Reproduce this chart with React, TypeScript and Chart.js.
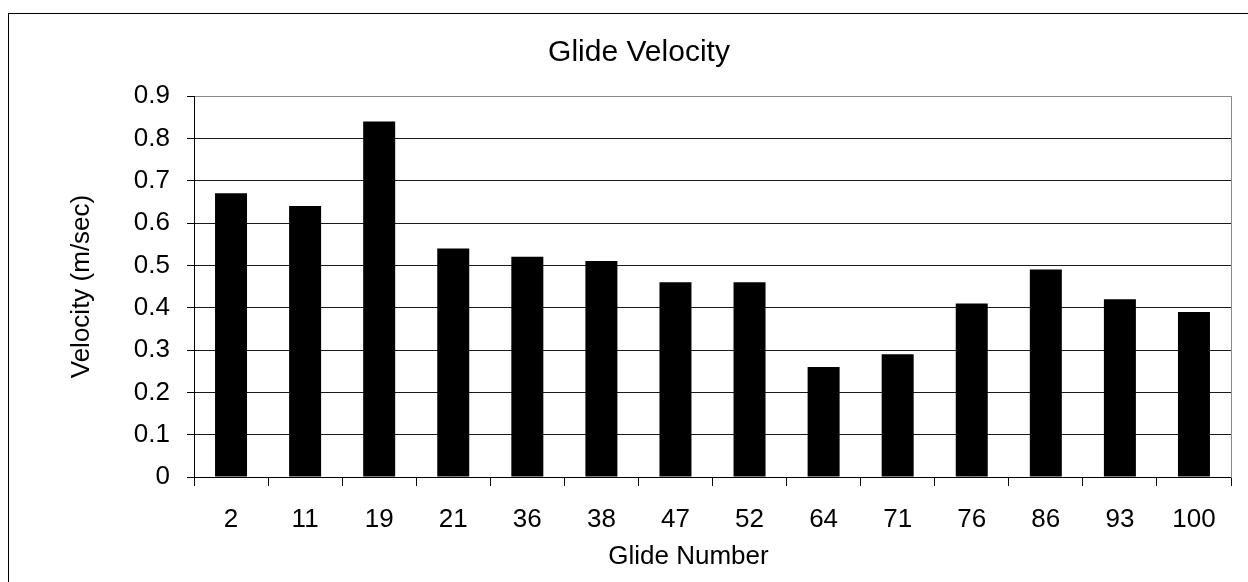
import React, { useEffect, useRef } from "react";
import { Chart, registerables } from "chart.js";

Chart.register(...registerables);

const categories: string[] = ["2", "11", "19", "21", "36", "38", "47", "52", "64", "71", "76", "86", "93", "100"];
const velocities: number[] = [0.67, 0.64, 0.84, 0.54, 0.52, 0.51, 0.46, 0.46, 0.26, 0.29, 0.41, 0.49, 0.42, 0.39];
const yMin = 0;
const yMax = 0.9;
const yStep = 0.1;
const chartTitle = "Glide Velocity";
const xTitle = "Glide Number";
const yTitle = "Velocity (m/sec)";

const FONT = "'Liberation Sans', Arial, sans-serif";

export default function App() {
  const ref = useRef<HTMLCanvasElement | null>(null);

  useEffect(() => {
    if (!ref.current) return;
    const xTitlePlugin = {
      id: "xTitlePlugin",
      afterDraw(chart: any) {
        const { ctx, chartArea } = chart;
        ctx.save();
        ctx.font = `26px ${FONT}`;
        ctx.fillStyle = "#000";
        ctx.textAlign = "center";
        ctx.textBaseline = "middle";
        ctx.fillText(xTitle, (chartArea.left + chartArea.right) / 2 - 24, chartArea.bottom + 80);
        ctx.restore();
      },
    };
    const chart = new Chart(ref.current, {
      type: "bar",
      data: {
        labels: categories,
        datasets: [
          {
            data: velocities,
            backgroundColor: "#000",
            borderWidth: 0,
            barPercentage: 0.432,
            categoryPercentage: 1,
          },
        ],
      },
      plugins: [xTitlePlugin],
      options: {
        animation: false,
        responsive: false,
        devicePixelRatio: 1,
        layout: { padding: { left: 0, right: 0, top: 0, bottom: 0 } },
        plugins: {
          legend: { display: false },
          tooltip: { enabled: false },
          title: {
            display: true,
            text: chartTitle,
            color: "#000",
            font: { family: FONT, size: 30, weight: "normal" },
            padding: { top: 21, bottom: 25 },
          },
        },
        scales: {
          x: {
            type: "category",
            offset: true,
            afterFit(scale: any) {
              scale.height = 105;
            },
            grid: {
              offset: true,
              drawOnChartArea: false,
              drawTicks: true,
              tickLength: 9,
              color: "#000",
              tickColor: "#000",
            },
            border: { display: true, color: "#000", width: 1 },
            ticks: {
              color: "#000",
              font: { family: FONT, size: 26 },
              padding: 18,
              maxRotation: 0,
              autoSkip: false,
            },
          },
          y: {
            type: "linear",
            position: "left",
            min: yMin,
            max: yMax,
            afterFit(scale: any) {
              scale.width = 185;
            },
            grid: {
              color: (c: any) => (c.tick && Math.abs(c.tick.value - yMax) < 1e-9 ? "#8a8a8a" : "#1a1a1a"),
              tickColor: "#000",
              tickLength: 7,
              lineWidth: 1,
            },
            border: { display: true, color: "#000", width: 1 },
            ticks: {
              stepSize: yStep,
              color: "#000",
              font: { family: FONT, size: 26 },
              padding: 17,
              callback: (v: any) => Number(Number(v).toFixed(1)).toString(),
            },
            title: {
              display: true,
              text: yTitle,
              color: "#000",
              font: { family: FONT, size: 26 },
              padding: { top: 57, bottom: 0 },
            },
          },
          y2: {
            type: "linear",
            position: "right",
            min: yMin,
            max: yMax,
            afterFit(scale: any) {
              scale.width = 38;
            },
            grid: { drawOnChartArea: false, drawTicks: false },
            border: { display: true, color: "#8a8a8a", width: 1 },
            ticks: { display: false },
          },
        },
      },
    });
    return () => chart.destroy();
  }, []);

  return (
    <div
      style={{
        position: "fixed",
        left: 8,
        top: 13,
        width: 1240,
        height: 569,
        boxSizing: "border-box",
        borderLeft: "1px solid #000",
        borderTop: "1px solid #000",
        overflow: "hidden",
        background: "#fff",
      }}
    >
      <canvas ref={ref} width={1260} height={568} style={{ display: "block", width: 1260, height: 568 }} />
    </div>
  );
}
